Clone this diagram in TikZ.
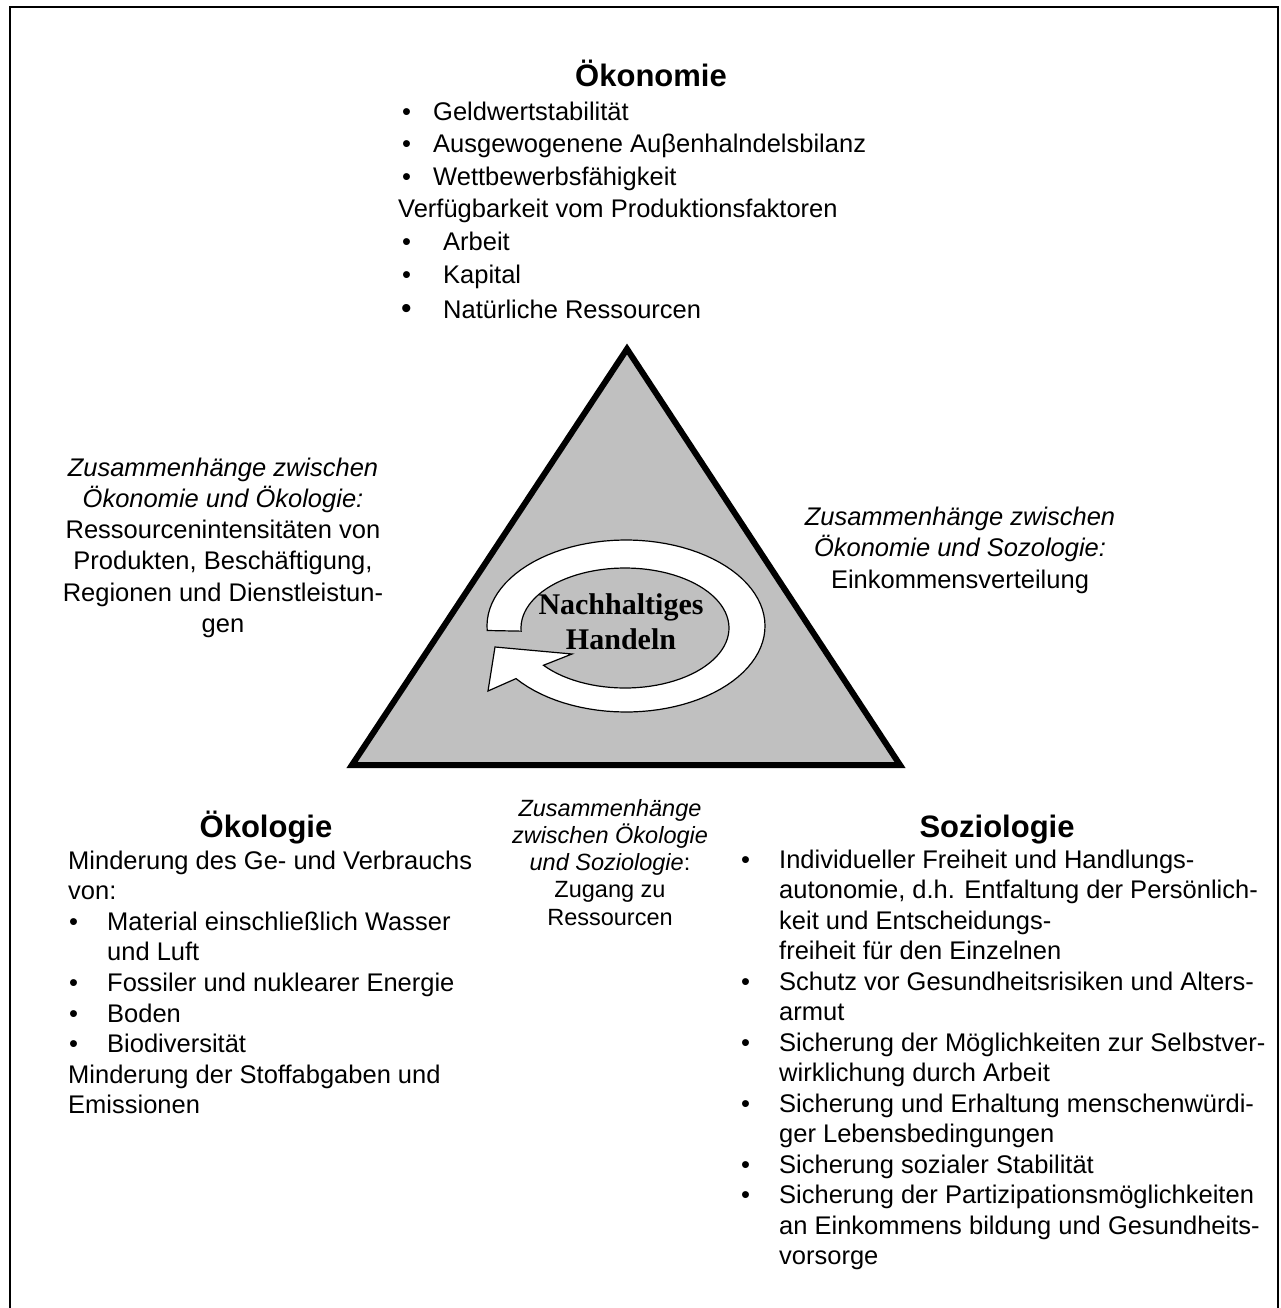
\documentclass[tikz,border=0pt]{standalone}
\usepackage{fontspec}
\setmainfont{Liberation Sans}
\newfontfamily\serifbf{Liberation Serif}
\definecolor{triGray}{RGB}{192,192,192}
\newcommand\bp[2]{\hspace*{#1pt}\makebox[#2pt][l]{\textbullet}}
\newcommand\ind[1]{\hspace*{#1pt}}
\begin{document}
\begin{tikzpicture}[x=1pt,y=-1pt,
  body/.style={inner sep=0pt, align=left, font=\fontsize{25.5}{30.6}\selectfont},
  ctext/.style={inner sep=0pt, align=center, font=\fontsize{25.5}{31.3}\selectfont},
  title/.style={inner sep=0pt, font=\fontsize{31}{36}\selectfont\bfseries},
  frame/.style={line width=2pt},
  tri/.style={fill=triGray, line width=6pt, line join=miter, miter limit=20},
  ring/.style={fill=white, line width=1.2pt, line join=miter}]
\clip (0,0) rectangle (1281,1308);
\useasboundingbox (0,0) rectangle (1281,1308);
\fill[white] (0,0) rectangle (1281,1308);
% outer frame
\draw[frame] (10,1330) -- (10,7) -- (1278,7) -- (1278,1330);

% triangle
\coordinate (apex) at (627,349);
\coordinate (bl) at (352,765);
\coordinate (br) at (900,765);
\draw[tri] (apex) -- (br) -- (bl) -- cycle;

% circular arrow
\draw[ring]
  plot[domain=177:502.3, samples=90, variable=\t] ({626+139*cos(\t)},{626+86*sin(\t)})
  -- (488,691) -- (495,647) -- (572,654)
  -- plot[domain=501.6:177, samples=90, variable=\t] ({625+104*cos(\t)},{628+60*sin(\t)})
  -- cycle;
% (anchor=base of a multi-line node = baseline of its last line)
\node[inner sep=0pt, align=center, anchor=base, font=\serifbf\bfseries\fontsize{30}{35}\selectfont] (center) at (621,649) {Nachhaltiges\\Handeln};

% Oekonomie
\node[title, anchor=base] (oektitle) at (651,87) {Ökonomie};
\node[body, anchor=base west, font=\fontsize{25.5}{32.6}\selectfont] (oeklist) at (398,318.6) {%
\bp{4}{31}Geldwertstabilität\\
\bp{4}{31}Ausgewogenene Auβenhalndelsbilanz\\
\bp{4}{31}Wettbewerbsfähigkeit\\
Verfügbarkeit vom Produktionsfaktoren\\
\bp{4}{41}Arbeit\\
\bp{4}{41}Kapital\\[3pt]
\hspace*{3pt}\makebox[42pt][l]{\fontsize{30}{30}\selectfont\textbullet}Natürliche Ressourcen};

% links
\node[ctext, anchor=base] (oekoeko) at (223,632.5) {%
\textit{Zusammenhänge zwischen}\\
\textit{Ökonomie und Ökologie:}\\
Ressourcenintensitäten von\\
Produkten, Beschäftigung,\\
Regionen und Dienstleistun-\\
gen};

% rechts
\node[ctext, anchor=base] (oeksoz) at (960,588) {%
\textit{Zusammenhänge zwischen}\\
\textit{Ökonomie und Sozologie:}\\
Einkommensverteilung};

% Mitte unten
\node[inner sep=0pt, align=center, anchor=base, font=\fontsize{23.5}{27.3}\selectfont] (ekosoz) at (610,925.2) {%
\textit{Zusammenhänge}\\
\textit{zwischen Ökologie}\\
\textit{und Soziologie}:\\
Zugang zu\\
Ressourcen};

% Oekologie
\node[title, anchor=base] (ekotitle) at (266,837) {Ökologie};
\node[body, anchor=base west] (ekolist) at (68,1113.8) {%
Minderung des Ge- und Verbrauchs\\
von:\\
\bp{1}{38}Material einschließlich Wasser\\
\ind{39}und Luft\\
\bp{1}{38}Fossiler und nuklearer Energie\\
\bp{1}{38}Boden\\
\bp{1}{38}Biodiversität\\
Minderung der Stoffabgaben und\\
Emissionen};

% Soziologie
\node[title, anchor=base] (soztitle) at (997,837) {Soziologie};
\node[body, anchor=base west, font=\fontsize{25.5}{30.5}\selectfont] (sozlist) at (741,1264.5) {%
\bp{0}{38}Individueller Freiheit und Handlungs-\\
\ind{38}autonomie, d.h. Entfaltung der Persönlich-\\
\ind{38}keit und Entscheidungs-\\
\ind{38}freiheit für den Einzelnen\\
\bp{0}{38}Schutz vor Gesundheitsrisiken und Alters-\\
\ind{38}armut\\
\bp{0}{38}Sicherung der Möglichkeiten zur Selbstver-\\
\ind{38}wirklichung durch Arbeit\\
\bp{0}{38}Sicherung und Erhaltung menschenwürdi-\\
\ind{38}ger Lebensbedingungen\\
\bp{0}{38}Sicherung sozialer Stabilität\\
\bp{0}{38}Sicherung der Partizipationsmöglichkeiten\\
\ind{38}an Einkommens bildung und Gesundheits-\\
\ind{38}vorsorge};
\end{tikzpicture}
\end{document}
